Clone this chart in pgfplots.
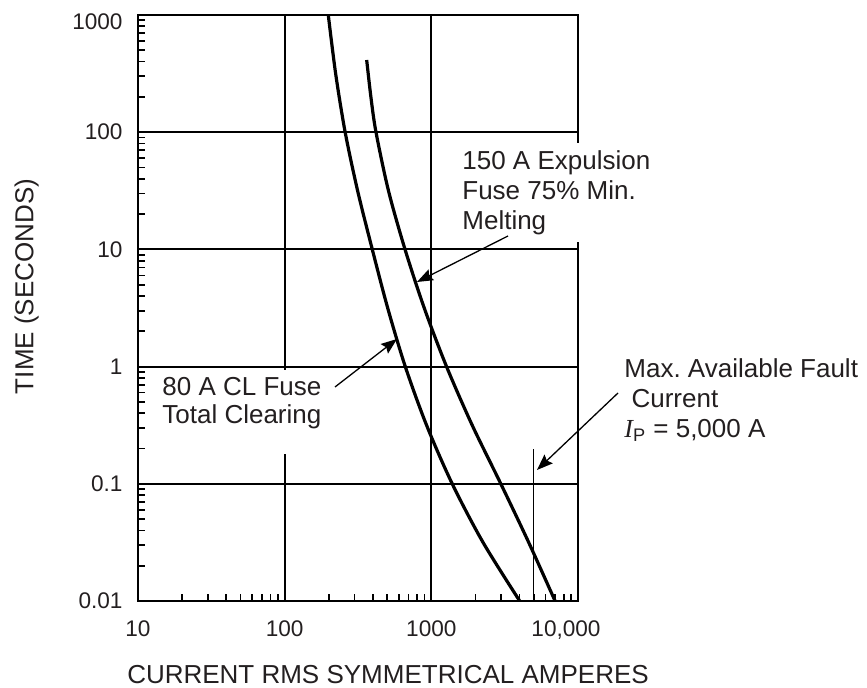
\documentclass[border=0pt]{standalone}
\usepackage{fontspec}
\setmainfont{Liberation Sans}
\newfontfamily\timesfont{Liberation Serif}
\usepackage{pgfplots}
\pgfplotsset{compat=1.18}
\usetikzlibrary{arrows.meta}
\definecolor{ink}{RGB}{35,31,32}
\frenchspacing

\begin{document}
\begin{tikzpicture}[>={Stealth[length=8pt,width=6pt,inset=1.2pt]}]
\begin{axis}[
  scale only axis, width=220pt, height=293pt,
  xmode=log, ymode=log,
  xmin=10, xmax=10000, ymin=0.01, ymax=1000,
  clip=false,
  axis line style={line width=1.1pt},
  xtick={10,100,1000,10000},
  xticklabels={10,100,1000,{\hspace*{-12pt}10,000}},
  ytick={0.01,0.1,1,10,100,1000},
  yticklabels={0.01,0.1,1,10,100,{\raisebox{-3.2pt}[\height][\depth]{1000}}},
  minor xtick={20,30,40,50,60,70,80,90,200,300,400,500,600,700,800,900,2000,3000,4000,5000,6000,7000,8000,9000},
  minor ytick={0.02,0.03,0.04,0.05,0.06,0.07,0.08,0.09,0.2,0.3,0.4,0.5,0.6,0.7,0.8,0.9,2,3,4,5,6,7,8,9,20,30,40,50,60,70,80,90,200,300,400,500,600,700,800,900},
  tick align=inside,
  xtick pos=bottom, ytick pos=left,
  major tick length=3.3pt, minor tick length=3.3pt,
  every tick/.style={black, line width=0.85pt},
  grid=major,
  major x grid style={black, line width=0.85pt},
  major y grid style={black, line width=1pt},
  tick label style={font=\fontsize{11.3}{13}\selectfont, text=ink},
  yticklabel style={xshift=-4.2pt},
  xticklabel style={yshift=-6.2pt},
]
% 80 A current-limiting fuse, total clearing
\addplot[black, line width=1.6pt, smooth] coordinates {
  (198.4,1000) (222.6,316.2) (258.5,100) (314.4,31.62) (395.8,10)
  (504.0,3.162) (664.4,1) (927.8,0.3162) (1388.2,0.1) (2251.4,0.03162)
  (4004.6,0.01)
};
% 150 A expulsion fuse, 75% minimum melting
\addplot[black, line width=1.6pt, smooth] coordinates {
  (362.5,413) (387.3,199.5) (419.5,100) (510.3,31.62) (661.7,10)
  (894.7,3.162) (1269.9,1) (1899.5,0.3162) (2976.6,0.1) (4610.6,0.03162)
  (6977.6,0.01)
};
% maximum available fault current
\addplot[black, line width=0.6pt] coordinates {(5000,0.01) (5000,0.2)};
\coordinate (TL) at (rel axis cs:0,1);
\end{axis}

\begin{scope}[shift={(TL)}, xshift=-69pt, yshift=7.5pt, x=0.5pt, y=-0.5pt]
  \node[anchor=north west, fill=white, inner sep=3.5pt, align=left, text=ink,
        font=\fontsize{13}{15}\selectfont] at (455,143)
        {150 A Expulsion\\Fuse 75\% Min.\\Melting};
  \node[anchor=north west, fill=white, inner sep=3.5pt, align=left, text=ink,
        font=\fontsize{13}{14}\selectfont] at (155,370)
        {80 A CL Fuse\\Total Clearing\rule[-11.5pt]{0pt}{0pt}};
  \node[anchor=north west, inner sep=3.5pt, align=left, text=ink,
        font=\fontsize{13}{15}\selectfont] at (617,351)
        {Max. Available Fault\\\hspace*{3.6pt}Current\\{\timesfont\itshape I}\textsubscript{P} = 5,000 A};
  \draw[->, line width=0.65pt, black] (508,236) -- (417,282);
  \draw[->, line width=0.65pt, black] (335,387) -- (397,339);
  \draw[->, line width=0.65pt, black] (618,393) -- (537,470);
  \node[rotate=90, anchor=base, text=ink, font=\fontsize{13}{15}\selectfont]
        at (33.3,286.5) {TIME (SECONDS)};
  \node[anchor=base, text=ink, font=\fontsize{13}{15}\selectfont]
        at (388,684) {CURRENT RMS SYMMETRICAL AMPERES};
  \pgfresetboundingbox
  \useasboundingbox (0,0) rectangle (867,688);
\end{scope}
\end{tikzpicture}
\end{document}
